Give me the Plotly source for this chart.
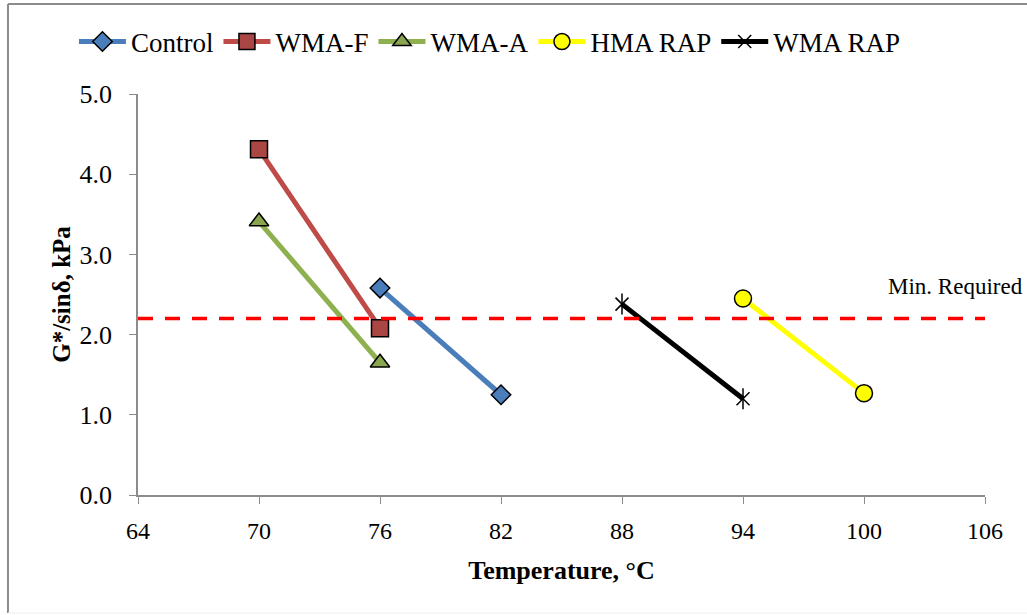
import plotly.graph_objects as go

# Data
control_x = [76, 82]
control_y = [2.58, 1.25]
wmaf_x = [70, 76]
wmaf_y = [4.31, 2.08]
wmaa_x = [70, 76]
wmaa_y = [3.41, 1.65]
hmarap_x = [94, 100]
hmarap_y = [2.45, 1.27]
wmarap_x = [88, 94]
wmarap_y = [2.38, 1.20]
min_required = 2.2
x_ticks = [64, 70, 76, 82, 88, 94, 100, 106]
y_ticks = [0, 1, 2, 3, 4, 5]

FONT = "Liberation Serif"

fig = go.Figure()

def add_series(name, xs, ys, color, symbol, fill, size):
    fig.add_trace(go.Scatter(
        x=xs, y=ys, name=name, mode="lines+markers",
        line=dict(color=color, width=5),
        marker=dict(symbol=symbol, size=size, color=fill,
                    line=dict(color="black", width=1.5)),
    ))

add_series("Control", control_x, control_y, "#4A7EBB", "diamond", "#4A7EBB", 15)
add_series("WMA-F", wmaf_x, wmaf_y, "#BE4B48", "square", "#AA4643", 17)
add_series("WMA-A", wmaa_x, wmaa_y, "#8EB04F", "triangle-up", "#89A54E", 17)
add_series("HMA RAP", hmarap_x, hmarap_y, "#FFFF00", "circle", "#FFFF00", 17)

fig.add_trace(go.Scatter(
    x=wmarap_x, y=wmarap_y, name="WMA RAP", mode="lines+markers",
    line=dict(color="black", width=5), legendgroup="wr",
    marker=dict(symbol="x-thin-open", size=13, color="black",
                line=dict(color="black", width=1.5)),
))
fig.add_trace(go.Scatter(
    x=wmarap_x, y=wmarap_y, name="WMA RAP", mode="markers",
    legendgroup="wr", showlegend=False, hoverinfo="skip",
    marker=dict(symbol="line-ns-open", size=15, color="black",
                line=dict(color="black", width=1.5)),
))

# Min required line
fig.add_trace(go.Scatter(
    x=[x_ticks[0], x_ticks[-1]], y=[min_required, min_required],
    mode="lines", showlegend=False, hoverinfo="skip",
    line=dict(color="#FF0000", width=3.5, dash="15px,12px"),
))

fig.add_annotation(x=1.047, xref="paper", y=min_required, yref="y",
                   text="Min. Required", showarrow=False,
                   xanchor="right", yanchor="bottom", yshift=18,
                   font=dict(family=FONT, size=23, color="black"))

# Frame
fig.add_shape(type="line", xref="paper", yref="paper",
              x0=-0.1535, x1=1.06, y0=1.2244, y1=1.2244,
              line=dict(color="#8C8C8C", width=2))
fig.add_shape(type="line", xref="paper", yref="paper",
              x0=-0.1535, x1=-0.1535, y0=1.2244, y1=-0.294,
              line=dict(color="#8C8C8C", width=2))
fig.add_shape(type="line", xref="paper", yref="paper",
              x0=-0.1535, x1=1.06, y0=-0.294, y1=-0.294,
              line=dict(color="#EEEEEE", width=1))

fig.update_layout(
    width=1027, height=615,
    margin=dict(l=138, r=42, t=94, b=120, autoexpand=False),
    paper_bgcolor="white", plot_bgcolor="white",
    font=dict(family=FONT, color="black", size=24),
    legend=dict(orientation="h", x=0.072, xref="container", xanchor="left",
                y=1 - 42 / 615, yref="container", yanchor="middle",
                bgcolor="rgba(0,0,0,0)",
                font=dict(family=FONT, size=27, color="black"),
                itemwidth=47, tracegroupgap=0),
    xaxis=dict(range=[64, 106], tickvals=x_ticks, ticks="outside",
               ticklen=7, tickcolor="#8C8C8C", showline=True,
               linecolor="#8C8C8C", linewidth=1.5, showgrid=False,
               zeroline=False, ticklabelstandoff=6,
               tickfont=dict(family=FONT, size=24),
               title=dict(text="<b>Temperature, °C</b>",
                          font=dict(family=FONT, size=26), standoff=18)),
    yaxis=dict(range=[0, 5], tickvals=y_ticks, tickformat=".1f",
               ticks="outside", ticklen=7, tickcolor="#8C8C8C",
               showline=True, linecolor="#8C8C8C", linewidth=1.5,
               showgrid=False, zeroline=False, ticklabelstandoff=12,
               tickfont=dict(family=FONT, size=26),
               title=dict(text="<b>G*/sinδ, kPa</b>",
                          font=dict(family=FONT, size=25), standoff=2)),
)

fig.write_html("out.html")
